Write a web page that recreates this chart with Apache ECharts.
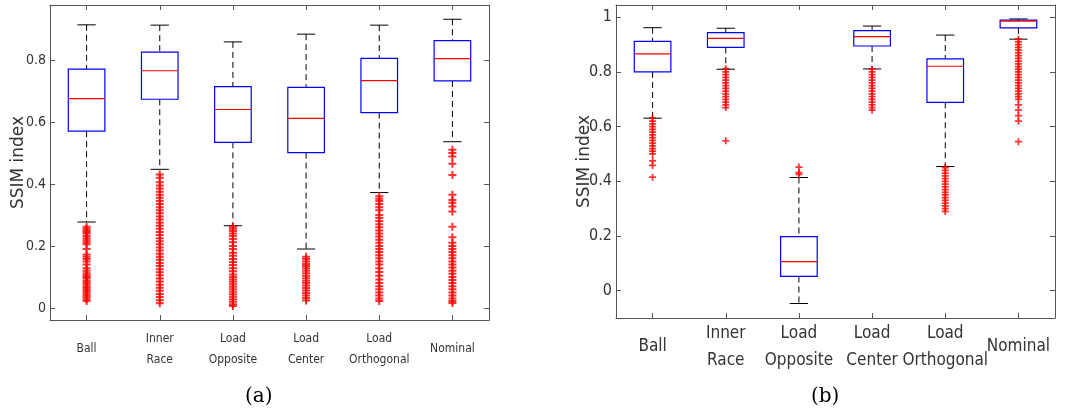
<!DOCTYPE html>
<html>
<head>
<meta charset="utf-8">
<script src="https://cdn.jsdelivr.net/npm/echarts@6/dist/echarts.min.js"></script>
<style>
  html, body { margin: 0; padding: 0; background: #fff; }
  #chart { width: 1073px; height: 415px; }
</style>
</head>
<body>
<div id="chart"></div>
<script>
// categories shared by both panels
const categories = ['Ball', 'Inner\nRace', 'Load\nOpposite', 'Load\nCenter', 'Load\nOrthogonal', 'Nominal']

// panel (a): lower whisker, Q1, median, Q3, upper whisker
const lowA = [0.277, 0.447, 0.265, 0.19, 0.372, 0.536]
const q1A = [0.57, 0.673, 0.534, 0.501, 0.63, 0.732]
const medA = [0.675, 0.765, 0.64, 0.611, 0.733, 0.804]
const q3A = [0.77, 0.825, 0.714, 0.711, 0.805, 0.862]
const highA = [0.913, 0.912, 0.858, 0.883, 0.912, 0.931]

// panel (b)
const lowB = [0.631, 0.81, -0.047, 0.811, 0.454, 0.92]
const q1B = [0.8, 0.89, 0.052, 0.895, 0.689, 0.961]
const medB = [0.866, 0.923, 0.106, 0.929, 0.821, 0.986]
const q3B = [0.912, 0.944, 0.198, 0.951, 0.848, 0.99]
const highB = [0.962, 0.96, 0.414, 0.968, 0.935, 0.994]

// outliers, one list per category
const outliersA = [
  [0.262, 0.255, 0.25, 0.245, 0.24, 0.232, 0.225, 0.218, 0.212, 0.205, 0.19, 0.172, 0.165, 0.158, 0.15, 0.14, 0.128, 0.12, 0.112, 0.105, 0.1, 0.095, 0.088, 0.082, 0.076, 0.07, 0.064, 0.058, 0.052, 0.046, 0.04, 0.034, 0.028, 0.022],
  [0.43, 0.42, 0.405, 0.395, 0.385, 0.375, 0.365, 0.355, 0.345, 0.335, 0.325, 0.315, 0.305, 0.295, 0.285, 0.275, 0.265, 0.255, 0.245, 0.235, 0.225, 0.215, 0.205, 0.195, 0.185, 0.175, 0.165, 0.155, 0.145, 0.135, 0.125, 0.115, 0.105, 0.095, 0.085, 0.075, 0.065, 0.055, 0.045, 0.035, 0.025, 0.015],
  [0.262, 0.255, 0.248, 0.24, 0.232, 0.222, 0.212, 0.2, 0.19, 0.178, 0.168, 0.158, 0.148, 0.138, 0.128, 0.118, 0.108, 0.1, 0.092, 0.084, 0.076, 0.068, 0.06, 0.052, 0.044, 0.036, 0.028, 0.02, 0.012, 0.006],
  [0.165, 0.158, 0.15, 0.142, 0.135, 0.128, 0.12, 0.112, 0.104, 0.096, 0.088, 0.08, 0.072, 0.064, 0.056, 0.048, 0.04, 0.032, 0.024],
  [0.36, 0.352, 0.345, 0.335, 0.325, 0.315, 0.3, 0.29, 0.28, 0.27, 0.26, 0.25, 0.24, 0.23, 0.22, 0.21, 0.2, 0.19, 0.18, 0.17, 0.16, 0.15, 0.14, 0.128, 0.116, 0.104, 0.092, 0.08, 0.07, 0.06, 0.05, 0.04, 0.03, 0.022],
  [0.51, 0.5, 0.488, 0.465, 0.429, 0.365, 0.348, 0.339, 0.327, 0.311, 0.262, 0.228, 0.21, 0.2, 0.19, 0.18, 0.17, 0.16, 0.15, 0.14, 0.13, 0.12, 0.11, 0.1, 0.09, 0.08, 0.07, 0.06, 0.05, 0.04, 0.03, 0.022, 0.016]
]
const outliersB = [
  [0.632, 0.62, 0.61, 0.6, 0.59, 0.58, 0.57, 0.56, 0.55, 0.54, 0.53, 0.52, 0.51, 0.5, 0.475, 0.458, 0.415],
  [0.812, 0.8, 0.79, 0.78, 0.77, 0.76, 0.75, 0.74, 0.73, 0.72, 0.71, 0.7, 0.69, 0.68, 0.67, 0.548],
  [0.452, 0.432, 0.425],
  [0.81, 0.8, 0.79, 0.78, 0.77, 0.76, 0.75, 0.74, 0.73, 0.72, 0.71, 0.7, 0.69, 0.68, 0.67, 0.66],
  [0.45, 0.44, 0.43, 0.42, 0.41, 0.4, 0.39, 0.38, 0.37, 0.36, 0.35, 0.34, 0.33, 0.32, 0.31, 0.3, 0.29],
  [0.92, 0.91, 0.9, 0.89, 0.88, 0.87, 0.86, 0.85, 0.84, 0.83, 0.82, 0.81, 0.8, 0.79, 0.78, 0.77, 0.76, 0.75, 0.74, 0.73, 0.72, 0.71, 0.7, 0.68, 0.66, 0.64, 0.62, 0.545]
]

const narrow = "'DejaVu Sans Condensed', sans-serif"
const axisColor = '#555'
const textColor = '#333'
const plus = 'path://M3,0h2v3h3v2h-3v3h-2v-3h-3v-2h3z'

function boxRows(lo, q1, md, q3, hi) {
  return categories.map((c, i) => [i, lo[i], q1[i], md[i], q3[i], hi[i]])
}
function outlierRows(lists) {
  let rows = []
  lists.forEach((vals, i) => vals.forEach(v => rows.push([i, v])))
  return rows
}

// matlab style box: blue box, red median, black dashed whiskers
function renderBox(params, api) {
  const i = api.value(0)
  const lo = api.coord([i, api.value(1)])
  const q1 = api.coord([i, api.value(2)])
  const md = api.coord([i, api.value(3)])
  const q3 = api.coord([i, api.value(4)])
  const hi = api.coord([i, api.value(5)])
  const bw = api.size([1, 0])[0] * 0.5
  const cw = bw / 2
  const x = lo[0]
  const dash = { stroke: '#000', lineWidth: 1, lineDash: [6, 4] }
  const solid = { stroke: '#000', lineWidth: 1 }
  return {
    type: 'group',
    children: [
      { type: 'line', shape: { x1: x, y1: hi[1], x2: x, y2: q3[1] }, style: dash },
      { type: 'line', shape: { x1: x, y1: q1[1], x2: x, y2: lo[1] }, style: dash },
      { type: 'line', shape: { x1: x - cw / 2, y1: hi[1], x2: x + cw / 2, y2: hi[1] }, style: solid },
      { type: 'line', shape: { x1: x - cw / 2, y1: lo[1], x2: x + cw / 2, y2: lo[1] }, style: solid },
      { type: 'rect', shape: { x: x - bw / 2, y: q3[1], width: bw, height: q1[1] - q3[1] },
        style: { fill: 'none', stroke: '#0000ff', lineWidth: 1.2 } },
      { type: 'line', shape: { x1: x - bw / 2, y1: md[1], x2: x + bw / 2, y2: md[1] },
        style: { stroke: '#ff0000', lineWidth: 1.2 } }
    ]
  }
}

function xAxes(grid, top, fontSize, lineHeight, margin) {
  return {
    type: 'category', gridIndex: grid, data: categories, position: top ? 'top' : 'bottom',
    boundaryGap: true,
    axisLine: { show: true, onZero: false, lineStyle: { color: axisColor } },
    axisTick: { show: true, inside: true, alignWithLabel: true, length: 5, lineStyle: { color: axisColor } },
    axisLabel: {
      show: !top, interval: 0, color: textColor, fontFamily: narrow, fontSize: fontSize,
      lineHeight: lineHeight, verticalAlign: 'middle', margin: margin
    },
    splitLine: { show: false }
  }
}
function yAxes(grid, right, min, max, fontSize) {
  return {
    type: 'value', gridIndex: grid, position: right ? 'right' : 'left', min: min, max: max, splitNumber: 5,
    name: right ? '' : 'SSIM index', nameLocation: 'middle', nameGap: 23, nameMoveOverlap: false,
    nameTextStyle: { color: textColor, fontFamily: 'DejaVu Sans', fontSize: 17 },
    axisLine: { show: true, onZero: false, lineStyle: { color: axisColor } },
    axisTick: { show: true, inside: true, length: 5, lineStyle: { color: axisColor } },
    axisLabel: {
      show: !right, showMinLabel: false, showMaxLabel: false, color: textColor,
      fontFamily: narrow, fontSize: fontSize, margin: 4
    },
    splitLine: { show: false }
  }
}

const chart = echarts.init(document.getElementById('chart'))
chart.setOption({
  animation: false,
  backgroundColor: '#fff',
  grid: [
    { left: 50, top: 5, width: 439, height: 315 },
    { left: 616, top: 5, width: 439, height: 313 }
  ],
  xAxis: [
    xAxes(0, false, 12, 21, 29),
    xAxes(0, true, 12, 21, 29),
    xAxes(1, false, 17, 27, 29),
    xAxes(1, true, 17, 27, 29)
  ],
  yAxis: [
    yAxes(0, false, -0.039, 0.977, 14),
    yAxes(0, true, -0.039, 0.977, 14),
    yAxes(1, false, -0.1, 1.045, 16),
    yAxes(1, true, -0.1, 1.045, 16)
  ],
  graphic: [
    { type: 'text', left: 245, top: 387, style: { text: '(a)', font: "20px 'DejaVu Serif'", fill: '#000' } },
    { type: 'text', left: 811, top: 387, style: { text: '(b)', font: "20px 'DejaVu Serif'", fill: '#000' } }
  ],
  series: [
    { type: 'custom', xAxisIndex: 0, yAxisIndex: 0, renderItem: renderBox,
      data: boxRows(lowA, q1A, medA, q3A, highA), z: 2 },
    { type: 'scatter', xAxisIndex: 0, yAxisIndex: 0, symbol: plus, symbolSize: 8,
      itemStyle: { color: '#ff0000' }, data: outlierRows(outliersA), z: 3 },
    { type: 'custom', xAxisIndex: 2, yAxisIndex: 2, renderItem: renderBox,
      data: boxRows(lowB, q1B, medB, q3B, highB), z: 2 },
    { type: 'scatter', xAxisIndex: 2, yAxisIndex: 2, symbol: plus, symbolSize: 7,
      itemStyle: { color: '#ff0000' }, data: outlierRows(outliersB), z: 3 }
  ]
})
</script>
</body>
</html>
